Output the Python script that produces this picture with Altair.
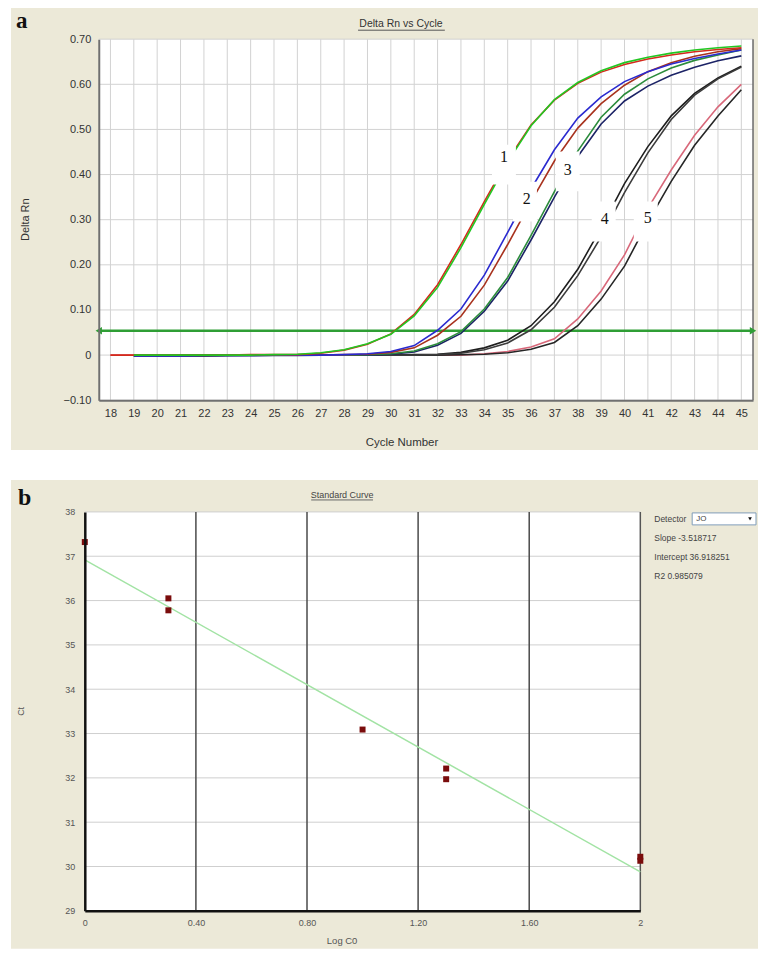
import altair as alt
import pandas as pd

# ---------------- Panel a: amplification curves ----------------
CYCLES = list(range(18, 46))
RED1 = [0.000, 0.000, 0.000, 0.000, 0.000, 0.000, 0.001, 0.001, 0.001, 0.004, 0.011, 0.024, 0.047, 0.090,
        0.156, 0.245, 0.340, 0.432, 0.510, 0.565, 0.602, 0.627, 0.644, 0.656, 0.665, 0.672, 0.677, 0.681]
GREEN1 = [None, 0.000, 0.000, 0.000, 0.000, 0.000, 0.000, 0.001, 0.002, 0.005, 0.012, 0.025, 0.046, 0.087,
          0.150, 0.238, 0.334, 0.428, 0.508, 0.566, 0.604, 0.630, 0.648, 0.660, 0.669, 0.676, 0.681, 0.685]
BLUE2 = [None, -0.002, -0.002, -0.002, -0.001, -0.001, -0.001, 0.000, 0.000, 0.000, 0.001, 0.003, 0.008, 0.021,
         0.055, 0.102, 0.177, 0.272, 0.368, 0.455, 0.525, 0.572, 0.606, 0.628, 0.645, 0.657, 0.667, 0.676]
RED2 = [None, -0.001, -0.001, -0.001, -0.001, 0.000, 0.000, 0.000, 0.000, 0.000, 0.001, 0.002, 0.006, 0.016,
        0.044, 0.086, 0.155, 0.245, 0.340, 0.430, 0.503, 0.557, 0.598, 0.628, 0.648, 0.662, 0.672, 0.679]
GREEN3 = [None, -0.001, -0.001, -0.001, -0.001, 0.000, 0.000, 0.000, 0.000, 0.000, 0.000, 0.001, 0.003, 0.009,
          0.025, 0.052, 0.102, 0.172, 0.265, 0.362, 0.452, 0.527, 0.578, 0.612, 0.636, 0.653, 0.665, 0.676]
NAVY3 = [None, -0.002, -0.002, -0.002, -0.002, -0.001, -0.001, -0.001, -0.001, 0.000, 0.000, 0.000, 0.002, 0.007,
         0.022, 0.048, 0.097, 0.164, 0.255, 0.350, 0.440, 0.512, 0.563, 0.596, 0.620, 0.638, 0.652, 0.663]
BLACK4A = [None, -0.001, -0.001, -0.001, -0.001, 0.000, 0.000, 0.000, 0.000, 0.000, 0.000, 0.000, 0.000, 0.001,
           0.002, 0.006, 0.016, 0.033, 0.065, 0.118, 0.190, 0.282, 0.380, 0.462, 0.530, 0.580, 0.614, 0.640]
BLACK4B = [None, -0.001, -0.001, -0.001, -0.001, -0.001, 0.000, 0.000, 0.000, 0.000, 0.000, 0.000, 0.000, 0.000,
           0.001, 0.004, 0.012, 0.027, 0.056, 0.106, 0.176, 0.262, 0.360, 0.448, 0.522, 0.576, 0.612, 0.638]
PINK5 = [0.000, 0.000, 0.000, 0.000, 0.000, 0.000, 0.000, 0.000, 0.000, 0.000, 0.000, 0.000, 0.000, 0.000,
         0.000, 0.000, 0.003, 0.008, 0.018, 0.036, 0.080, 0.142, 0.222, 0.325, 0.410, 0.487, 0.550, 0.600]
BLACK5 = [None, -0.001, -0.001, -0.001, -0.001, -0.001, -0.001, 0.000, 0.000, 0.000, 0.000, 0.000, 0.000, 0.000,
          0.000, 0.001, 0.002, 0.005, 0.013, 0.028, 0.065, 0.124, 0.197, 0.295, 0.385, 0.465, 0.530, 0.588]

CURVE_IDS = ["pink5", "black5", "black4a", "black4b", "navy3", "green3", "red2", "blue2", "red1", "green1"]
CURVE_COLORS = ["#d8687a", "#262626", "#1e1e1e", "#3c3c3c", "#1c2366", "#2c8c3c",
                "#a8321e", "#2a2acf", "#d42a1c", "#22c722"]
CURVE_SERIES = [PINK5, BLACK5, BLACK4A, BLACK4B, NAVY3, GREEN3, RED2, BLUE2, RED1, GREEN1]

Y_TICKS_A = [-0.1, 0.0, 0.1, 0.2, 0.3, 0.4, 0.5, 0.6, 0.7]
THRESHOLD = 0.054
ARROW_X = [17.5, 45.5]
ARROW_SHAPE = ["triangle-left", "triangle-right"]

LABEL_TEXT = ["1", "2", "3", "4", "5"]
LABEL_X = [34.84, 35.82, 37.57, 39.15, 40.99]
LABEL_Y = [0.438, 0.345, 0.411, 0.301, 0.303]
BOX_X = [34.84, 35.74, 37.57, 39.11, 40.91]
BOX_Y = [0.422, 0.340, 0.407, 0.296, 0.296]

# ---------------- Panel b: standard curve ----------------
LOG_C0 = [0.0, 0.301, 0.301, 1.0, 1.301, 1.301, 2.0, 2.0]
CT = [37.32, 36.05, 35.78, 33.09, 32.21, 31.97, 30.22, 30.13]
SLOPE = -3.518717
INTERCEPT = 36.918251
RSQ = 0.985079
FIT_X = [0.0, 2.0]
X_TICKS_B = [0, 0.4, 0.8, 1.2, 1.6, 2]
Y_TICKS_B = list(range(29, 39))

# ---------------- build tables ----------------
rows = []
for cid, series in zip(CURVE_IDS, CURVE_SERIES):
    for c, v in zip(CYCLES, series):
        if v is not None:
            rows.append({"curve": cid, "cycle": c, "val": v})
df_curves = pd.DataFrame(rows)
df_gx = pd.DataFrame({"cycle": CYCLES})
df_gy = pd.DataFrame({"val": Y_TICKS_A})
df_thr = pd.DataFrame({"val": [THRESHOLD]})
df_arrow = pd.DataFrame({"cycle": ARROW_X, "val": [THRESHOLD] * 2, "shape": ARROW_SHAPE})
df_lab = pd.DataFrame({"cycle": LABEL_X, "val": LABEL_Y, "t": LABEL_TEXT})
df_box = pd.DataFrame({"cycle": BOX_X, "val": BOX_Y})
one = pd.DataFrame({"k": [0]})

BEIGE = "#ECE9D8"
FONT = "Liberation Sans"
SERIF = "Liberation Serif"

W_A, H_A = 656, 362
xs_a = alt.Scale(domain=[17.5, 45.5], nice=False, zero=False)
ys_a = alt.Scale(domain=[-0.1, 0.7], nice=False, zero=False)
x_axis_a = alt.Axis(values=CYCLES, format="d", grid=False, ticks=False, domainColor="#707070",
                    domainWidth=2, labelFont=FONT, labelFontSize=11, labelColor="#333333",
                    labelPadding=7, labelFlush=False, labelOverlap=False, zindex=1)
y_axis_a = alt.Axis(values=Y_TICKS_A, labelExpr="datum.value == 0 ? '0' : format(datum.value, '.2f')",
                    grid=False, ticks=False, domainColor="#707070", domainWidth=2, labelFont=FONT,
                    labelFontSize=11, labelColor="#333333", labelPadding=8, labelFlush=False, zindex=1)
XA = alt.X("cycle:Q", scale=xs_a, axis=x_axis_a, title=None)
YA = alt.Y("val:Q", scale=ys_a, axis=y_axis_a, title=None)


def pix_rect(x, x2, y, y2, **kw):
    return alt.Chart(one).mark_rect(**kw).encode(
        x=alt.value(x), x2=alt.value(x2), y=alt.value(y), y2=alt.value(y2))


def pix_text(x, y, txt, **kw):
    return alt.Chart(one).mark_text(**kw).encode(x=alt.value(x), y=alt.value(y), text=alt.value(txt))


def pix_hrule(x, x2, y, **kw):
    return alt.Chart(one).mark_rule(**kw).encode(x=alt.value(x), x2=alt.value(x2), y=alt.value(y))


def pix_vrule(x, y, y2, **kw):
    return alt.Chart(one).mark_rule(**kw).encode(x=alt.value(x), y=alt.value(y), y2=alt.value(y2))


a_layers = [
    pix_rect(-88, 661, -32, 412, color=BEIGE),
    pix_rect(0, W_A, 0, H_A, color="white"),
    alt.Chart(df_gx).mark_rule(color="#d2d2d2", strokeWidth=1).encode(x=XA),
    alt.Chart(df_gy).mark_rule(color="#d2d2d2", strokeWidth=1).encode(y=YA),
    pix_vrule(W_A, 0, H_A, color="#6a6a6a", strokeWidth=1.5),
    alt.Chart(df_thr).mark_rule(color="#2f9e35", strokeWidth=2.5).encode(y=YA),
    alt.Chart(df_arrow).mark_point(filled=True, color="#2f9e35", size=55, opacity=1).encode(
        x=XA, y=YA, shape=alt.Shape("shape:N", scale=None)),
    alt.Chart(df_curves).mark_line(strokeWidth=1.6).encode(
        x=XA, y=YA,
        color=alt.Color("curve:N", scale=alt.Scale(domain=CURVE_IDS, range=CURVE_COLORS), legend=None)),
    alt.Chart(df_box).mark_point(shape="M-0.6,-1L0.6,-1L0.6,1L-0.6,1Z", size=1600, filled=True,
                                 color="white", opacity=1, strokeWidth=0).encode(x=XA, y=YA),
    alt.Chart(df_lab).mark_text(font=SERIF, fontSize=16, color="#111111").encode(x=XA, y=YA, text="t:N"),
    pix_text(303, -15, "Delta Rn vs Cycle", font=FONT, fontSize=10.5, color="#333333"),
    pix_hrule(260, 347, -9, color="#555555", strokeWidth=1),
    pix_text(-83, -11, "a", font=SERIF, fontSize=23, fontWeight="bold", color="#111111",
             align="left", baseline="alphabetic"),
    pix_text(-73, H_A / 2, "Delta Rn", font=FONT, fontSize=11, color="#333333", angle=270),
    pix_text(304, 405, "Cycle Number", font=FONT, fontSize=11.5, color="#333333"),
]
panel_a = alt.layer(*a_layers).properties(width=W_A, height=H_A)

# ---------------- panel b ----------------
# panel b's plot starts 14 px left of panel a's (both groups share the same origin)
SHIFT = 14
W_B, H_B = 543, 400
df_pts = pd.DataFrame({"logc": LOG_C0, "ct": CT})
df_fit = pd.DataFrame({"logc": FIT_X, "ct": [INTERCEPT + SLOPE * v for v in FIT_X]})
df_gxb = pd.DataFrame({"logc": X_TICKS_B[1:-1]})
df_gyb = pd.DataFrame({"ct": Y_TICKS_B[1:]})

xs_b = alt.Scale(domain=[0, 2], nice=False, zero=False, range=[-SHIFT, W_B])
ys_b = alt.Scale(domain=[29, 38], nice=False, zero=False)
x_axis_b = alt.Axis(values=X_TICKS_B,
                    labelExpr="datum.value == 0 ? '0' : datum.value == 2 ? '2' : format(datum.value, '.2f')",
                    grid=False, ticks=False, domainColor="#111111", domainWidth=2.5, labelFont=FONT,
                    labelFontSize=9, labelColor="#555555", labelPadding=8, labelFlush=False, zindex=1)
y_axis_b = alt.Axis(values=Y_TICKS_B, format="d", grid=False, ticks=False, domainColor="#111111",
                    domainWidth=2.5, labelFont=FONT, labelFontSize=9, labelColor="#555555",
                    labelPadding=10, labelFlush=False, offset=SHIFT, zindex=1)
XB = alt.X("logc:Q", scale=xs_b, axis=x_axis_b, title=None)
YB = alt.Y("ct:Q", scale=ys_b, axis=y_axis_b, title=None)

info = [("Slope", f"{SLOPE:.6f}"), ("Intercept", f"{INTERCEPT:.6f}"), ("R2", f"{RSQ:.6f}")]

b_layers = [
    pix_rect(-88, 661, -32, H_B + 38, color=BEIGE),
    pix_rect(-SHIFT, W_B, 0, H_B, color="white"),
    alt.Chart(df_gyb).mark_rule(color="#cfcfcf", strokeWidth=1).encode(
        y=YB, x=alt.value(-SHIFT), x2=alt.value(W_B)),
    alt.Chart(df_gxb).mark_rule(color="#4a4a4a", strokeWidth=1.5).encode(x=XB),
    pix_vrule(W_B, 0, H_B, color="#555555", strokeWidth=1.5),
    alt.Chart(df_fit).mark_line(color="#a2e3a4", strokeWidth=1.5).encode(x=XB, y=YB),
    alt.Chart(df_pts).mark_square(size=36, color="#7a0c0c", opacity=1).encode(x=XB, y=YB),
    pix_text(244, -17, "Standard Curve", font=FONT, fontSize=9, color="#444444"),
    pix_hrule(213, 275, -12, color="#666666", strokeWidth=1),
    pix_text(-81, -7, "b", font=SERIF, fontSize=24, fontWeight="bold", color="#111111",
             align="left", baseline="alphabetic"),
    pix_text(-78, H_B / 2, "Ct", font=FONT, fontSize=9, color="#555555", angle=270),
    pix_text(244, H_B + 30, "Log C0", font=FONT, fontSize=9.5, color="#555555"),
    pix_text(557, 7, "Detector", font=FONT, fontSize=8.5, color="#444444", align="left"),
    pix_rect(595, 659, 1, 13, color="white", stroke="#7f9db9", strokeWidth=1),
    pix_text(599, 7, "JO", font=FONT, fontSize=8, color="#444444", align="left"),
    alt.Chart(one).mark_point(shape="triangle-down", filled=True, color="#111111", size=14,
                              opacity=1).encode(x=alt.value(653), y=alt.value(7)),
]
for i, (lab, val) in enumerate(info):
    b_layers.append(pix_text(557, 26 + 19 * i, f"{lab}  {val}", font=FONT, fontSize=8.5,
                             color="#444444", align="left"))
panel_b = alt.layer(*b_layers).properties(width=W_B, height=H_B)

chart = alt.concat(panel_a, panel_b, columns=1, spacing=28, align="none", bounds="full").properties(
    padding={"left": 2, "top": -3, "right": 0, "bottom": 0}
).configure(background="white").configure_view(stroke="transparent")

chart.save("out.html", embed_options={"renderer": "svg", "actions": False})
